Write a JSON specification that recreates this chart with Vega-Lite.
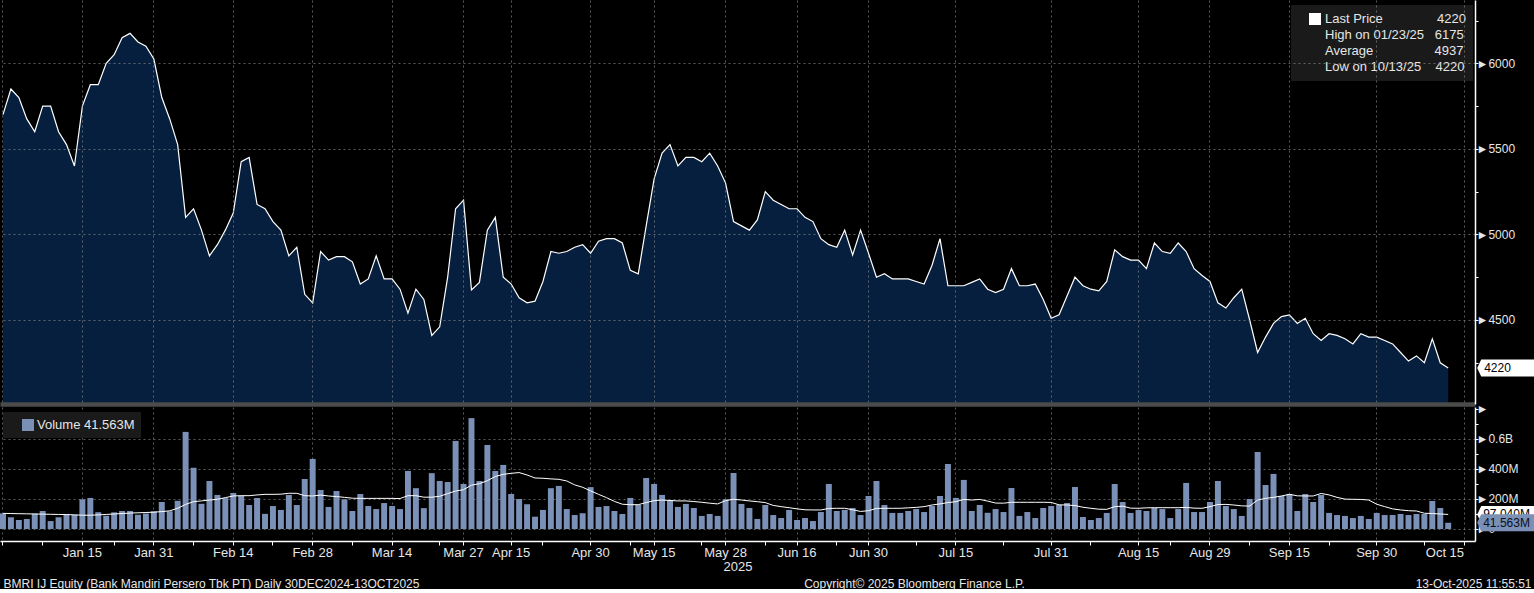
{
  "$schema": "https://vega.github.io/schema/vega-lite/v6.json",
  "background": "#000000",
  "padding": 0,
  "bounds": "flush",
  "spacing": 3,
  "config": {
    "view": {"stroke": null},
    "font": "Liberation Sans",
    "axis": {"labelFont": "Liberation Sans", "titleFont": "Liberation Sans", "titleFontWeight": "normal", "labelOverlap": false},
    "legend": {"labelFont": "Liberation Sans"}
  },
  "resolve": {"scale": {"fill": "independent"}},
  "datasets": {
    "bmri": [
      {"date": "2024-12-30", "price": 5700, "volume": 104e6, "ma": 104e6},
      {"date": "2025-01-02", "price": 5850, "volume": 78e6, "ma": 103e6},
      {"date": "2025-01-03", "price": 5800, "volume": 60e6, "ma": 102e6},
      {"date": "2025-01-06", "price": 5675, "volume": 67e6, "ma": 101e6},
      {"date": "2025-01-07", "price": 5600, "volume": 102e6, "ma": 100e6},
      {"date": "2025-01-08", "price": 5750, "volume": 120e6, "ma": 99e6},
      {"date": "2025-01-09", "price": 5750, "volume": 53e6, "ma": 98e6},
      {"date": "2025-01-10", "price": 5600, "volume": 78e6, "ma": 97e6},
      {"date": "2025-01-13", "price": 5525, "volume": 98e6, "ma": 96e6},
      {"date": "2025-01-14", "price": 5400, "volume": 95e6, "ma": 94e6},
      {"date": "2025-01-15", "price": 5750, "volume": 198e6, "ma": 92e6},
      {"date": "2025-01-16", "price": 5875, "volume": 207e6, "ma": 92e6},
      {"date": "2025-01-17", "price": 5875, "volume": 112e6, "ma": 94e6},
      {"date": "2025-01-20", "price": 6000, "volume": 88e6, "ma": 97e6},
      {"date": "2025-01-21", "price": 6050, "volume": 111e6, "ma": 100e6},
      {"date": "2025-01-22", "price": 6150, "volume": 120e6, "ma": 103e6},
      {"date": "2025-01-23", "price": 6175, "volume": 120e6, "ma": 106e6},
      {"date": "2025-01-24", "price": 6125, "volume": 95e6, "ma": 108e6},
      {"date": "2025-01-30", "price": 6100, "volume": 103e6, "ma": 110e6},
      {"date": "2025-01-31", "price": 6025, "volume": 118e6, "ma": 112e6},
      {"date": "2025-02-03", "price": 5800, "volume": 180e6, "ma": 116e6},
      {"date": "2025-02-04", "price": 5675, "volume": 118e6, "ma": 121e6},
      {"date": "2025-02-05", "price": 5525, "volume": 188e6, "ma": 138e6},
      {"date": "2025-02-06", "price": 5100, "volume": 647e6, "ma": 164e6},
      {"date": "2025-02-07", "price": 5150, "volume": 408e6, "ma": 182e6},
      {"date": "2025-02-10", "price": 5025, "volume": 168e6, "ma": 187e6},
      {"date": "2025-02-11", "price": 4875, "volume": 320e6, "ma": 193e6},
      {"date": "2025-02-12", "price": 4940, "volume": 227e6, "ma": 198e6},
      {"date": "2025-02-13", "price": 5025, "volume": 206e6, "ma": 209e6},
      {"date": "2025-02-14", "price": 5125, "volume": 240e6, "ma": 220e6},
      {"date": "2025-02-17", "price": 5425, "volume": 221e6, "ma": 222e6},
      {"date": "2025-02-18", "price": 5450, "volume": 160e6, "ma": 222e6},
      {"date": "2025-02-19", "price": 5175, "volume": 207e6, "ma": 227e6},
      {"date": "2025-02-20", "price": 5150, "volume": 101e6, "ma": 231e6},
      {"date": "2025-02-21", "price": 5075, "volume": 153e6, "ma": 231e6},
      {"date": "2025-02-24", "price": 5025, "volume": 127e6, "ma": 232e6},
      {"date": "2025-02-25", "price": 4875, "volume": 227e6, "ma": 238e6},
      {"date": "2025-02-26", "price": 4925, "volume": 160e6, "ma": 238e6},
      {"date": "2025-02-27", "price": 4650, "volume": 333e6, "ma": 222e6},
      {"date": "2025-02-28", "price": 4600, "volume": 467e6, "ma": 220e6},
      {"date": "2025-03-03", "price": 4900, "volume": 260e6, "ma": 226e6},
      {"date": "2025-03-04", "price": 4850, "volume": 147e6, "ma": 220e6},
      {"date": "2025-03-05", "price": 4870, "volume": 253e6, "ma": 216e6},
      {"date": "2025-03-06", "price": 4870, "volume": 198e6, "ma": 211e6},
      {"date": "2025-03-07", "price": 4840, "volume": 120e6, "ma": 205e6},
      {"date": "2025-03-10", "price": 4710, "volume": 233e6, "ma": 204e6},
      {"date": "2025-03-11", "price": 4740, "volume": 153e6, "ma": 204e6},
      {"date": "2025-03-12", "price": 4875, "volume": 133e6, "ma": 204e6},
      {"date": "2025-03-13", "price": 4740, "volume": 173e6, "ma": 204e6},
      {"date": "2025-03-14", "price": 4740, "volume": 153e6, "ma": 204e6},
      {"date": "2025-03-17", "price": 4680, "volume": 133e6, "ma": 203e6},
      {"date": "2025-03-18", "price": 4540, "volume": 387e6, "ma": 222e6},
      {"date": "2025-03-19", "price": 4680, "volume": 272e6, "ma": 222e6},
      {"date": "2025-03-20", "price": 4620, "volume": 139e6, "ma": 212e6},
      {"date": "2025-03-21", "price": 4410, "volume": 372e6, "ma": 212e6},
      {"date": "2025-03-24", "price": 4460, "volume": 320e6, "ma": 218e6},
      {"date": "2025-03-25", "price": 4750, "volume": 313e6, "ma": 236e6},
      {"date": "2025-03-26", "price": 5150, "volume": 587e6, "ma": 253e6},
      {"date": "2025-03-27", "price": 5200, "volume": 300e6, "ma": 262e6},
      {"date": "2025-04-08", "price": 4675, "volume": 739e6, "ma": 292e6},
      {"date": "2025-04-09", "price": 4720, "volume": 320e6, "ma": 302e6},
      {"date": "2025-04-10", "price": 5025, "volume": 560e6, "ma": 322e6},
      {"date": "2025-04-11", "price": 5100, "volume": 387e6, "ma": 350e6},
      {"date": "2025-04-14", "price": 4750, "volume": 427e6, "ma": 364e6},
      {"date": "2025-04-15", "price": 4710, "volume": 233e6, "ma": 371e6},
      {"date": "2025-04-16", "price": 4630, "volume": 200e6, "ma": 376e6},
      {"date": "2025-04-17", "price": 4600, "volume": 165e6, "ma": 360e6},
      {"date": "2025-04-21", "price": 4610, "volume": 82e6, "ma": 340e6},
      {"date": "2025-04-22", "price": 4725, "volume": 127e6, "ma": 338e6},
      {"date": "2025-04-23", "price": 4900, "volume": 272e6, "ma": 334e6},
      {"date": "2025-04-24", "price": 4890, "volume": 287e6, "ma": 331e6},
      {"date": "2025-04-25", "price": 4900, "volume": 133e6, "ma": 320e6},
      {"date": "2025-04-28", "price": 4925, "volume": 93e6, "ma": 294e6},
      {"date": "2025-04-29", "price": 4940, "volume": 105e6, "ma": 278e6},
      {"date": "2025-04-30", "price": 4890, "volume": 279e6, "ma": 254e6},
      {"date": "2025-05-02", "price": 4960, "volume": 147e6, "ma": 231e6},
      {"date": "2025-05-05", "price": 4975, "volume": 153e6, "ma": 209e6},
      {"date": "2025-05-06", "price": 4975, "volume": 120e6, "ma": 184e6},
      {"date": "2025-05-07", "price": 4950, "volume": 100e6, "ma": 165e6},
      {"date": "2025-05-08", "price": 4790, "volume": 207e6, "ma": 162e6},
      {"date": "2025-05-09", "price": 4770, "volume": 160e6, "ma": 162e6},
      {"date": "2025-05-14", "price": 5050, "volume": 340e6, "ma": 176e6},
      {"date": "2025-05-15", "price": 5325, "volume": 300e6, "ma": 189e6},
      {"date": "2025-05-16", "price": 5475, "volume": 227e6, "ma": 193e6},
      {"date": "2025-05-19", "price": 5525, "volume": 193e6, "ma": 190e6},
      {"date": "2025-05-20", "price": 5400, "volume": 147e6, "ma": 187e6},
      {"date": "2025-05-21", "price": 5450, "volume": 167e6, "ma": 187e6},
      {"date": "2025-05-22", "price": 5450, "volume": 140e6, "ma": 183e6},
      {"date": "2025-05-23", "price": 5425, "volume": 87e6, "ma": 178e6},
      {"date": "2025-05-26", "price": 5475, "volume": 100e6, "ma": 172e6},
      {"date": "2025-05-27", "price": 5400, "volume": 87e6, "ma": 167e6},
      {"date": "2025-05-28", "price": 5300, "volume": 198e6, "ma": 189e6},
      {"date": "2025-06-02", "price": 5075, "volume": 373e6, "ma": 198e6},
      {"date": "2025-06-03", "price": 5050, "volume": 167e6, "ma": 193e6},
      {"date": "2025-06-04", "price": 5025, "volume": 140e6, "ma": 187e6},
      {"date": "2025-06-05", "price": 5085, "volume": 67e6, "ma": 182e6},
      {"date": "2025-06-10", "price": 5250, "volume": 160e6, "ma": 176e6},
      {"date": "2025-06-11", "price": 5200, "volume": 93e6, "ma": 157e6},
      {"date": "2025-06-12", "price": 5175, "volume": 73e6, "ma": 149e6},
      {"date": "2025-06-13", "price": 5150, "volume": 127e6, "ma": 142e6},
      {"date": "2025-06-16", "price": 5150, "volume": 60e6, "ma": 134e6},
      {"date": "2025-06-17", "price": 5100, "volume": 73e6, "ma": 128e6},
      {"date": "2025-06-18", "price": 5075, "volume": 53e6, "ma": 127e6},
      {"date": "2025-06-19", "price": 4975, "volume": 113e6, "ma": 127e6},
      {"date": "2025-06-20", "price": 4940, "volume": 300e6, "ma": 137e6},
      {"date": "2025-06-23", "price": 4925, "volume": 120e6, "ma": 138e6},
      {"date": "2025-06-24", "price": 5025, "volume": 127e6, "ma": 138e6},
      {"date": "2025-06-25", "price": 4880, "volume": 140e6, "ma": 128e6},
      {"date": "2025-06-26", "price": 5025, "volume": 93e6, "ma": 117e6},
      {"date": "2025-06-30", "price": 4890, "volume": 220e6, "ma": 122e6},
      {"date": "2025-07-01", "price": 4750, "volume": 320e6, "ma": 137e6},
      {"date": "2025-07-02", "price": 4770, "volume": 160e6, "ma": 138e6},
      {"date": "2025-07-03", "price": 4740, "volume": 107e6, "ma": 138e6},
      {"date": "2025-07-04", "price": 4740, "volume": 107e6, "ma": 138e6},
      {"date": "2025-07-07", "price": 4740, "volume": 120e6, "ma": 141e6},
      {"date": "2025-07-08", "price": 4725, "volume": 133e6, "ma": 144e6},
      {"date": "2025-07-09", "price": 4710, "volume": 113e6, "ma": 149e6},
      {"date": "2025-07-10", "price": 4820, "volume": 153e6, "ma": 160e6},
      {"date": "2025-07-11", "price": 4975, "volume": 220e6, "ma": 167e6},
      {"date": "2025-07-14", "price": 4700, "volume": 433e6, "ma": 176e6},
      {"date": "2025-07-15", "price": 4700, "volume": 207e6, "ma": 182e6},
      {"date": "2025-07-16", "price": 4700, "volume": 327e6, "ma": 197e6},
      {"date": "2025-07-17", "price": 4720, "volume": 120e6, "ma": 193e6},
      {"date": "2025-07-18", "price": 4740, "volume": 160e6, "ma": 197e6},
      {"date": "2025-07-21", "price": 4680, "volume": 108e6, "ma": 186e6},
      {"date": "2025-07-22", "price": 4660, "volume": 133e6, "ma": 173e6},
      {"date": "2025-07-23", "price": 4680, "volume": 113e6, "ma": 172e6},
      {"date": "2025-07-24", "price": 4800, "volume": 273e6, "ma": 178e6},
      {"date": "2025-07-25", "price": 4700, "volume": 87e6, "ma": 178e6},
      {"date": "2025-07-28", "price": 4700, "volume": 113e6, "ma": 178e6},
      {"date": "2025-07-29", "price": 4710, "volume": 73e6, "ma": 178e6},
      {"date": "2025-07-30", "price": 4620, "volume": 140e6, "ma": 178e6},
      {"date": "2025-07-31", "price": 4510, "volume": 153e6, "ma": 177e6},
      {"date": "2025-08-01", "price": 4530, "volume": 160e6, "ma": 161e6},
      {"date": "2025-08-04", "price": 4640, "volume": 173e6, "ma": 160e6},
      {"date": "2025-08-05", "price": 4750, "volume": 280e6, "ma": 156e6},
      {"date": "2025-08-06", "price": 4700, "volume": 80e6, "ma": 145e6},
      {"date": "2025-08-07", "price": 4680, "volume": 60e6, "ma": 138e6},
      {"date": "2025-08-08", "price": 4670, "volume": 73e6, "ma": 132e6},
      {"date": "2025-08-11", "price": 4725, "volume": 107e6, "ma": 131e6},
      {"date": "2025-08-12", "price": 4910, "volume": 300e6, "ma": 149e6},
      {"date": "2025-08-13", "price": 4870, "volume": 180e6, "ma": 152e6},
      {"date": "2025-08-14", "price": 4850, "volume": 107e6, "ma": 139e6},
      {"date": "2025-08-15", "price": 4850, "volume": 127e6, "ma": 138e6},
      {"date": "2025-08-19", "price": 4800, "volume": 120e6, "ma": 141e6},
      {"date": "2025-08-20", "price": 4950, "volume": 140e6, "ma": 142e6},
      {"date": "2025-08-21", "price": 4900, "volume": 133e6, "ma": 142e6},
      {"date": "2025-08-22", "price": 4890, "volume": 73e6, "ma": 142e6},
      {"date": "2025-08-25", "price": 4950, "volume": 133e6, "ma": 142e6},
      {"date": "2025-08-26", "price": 4900, "volume": 307e6, "ma": 144e6},
      {"date": "2025-08-27", "price": 4800, "volume": 113e6, "ma": 139e6},
      {"date": "2025-08-28", "price": 4760, "volume": 113e6, "ma": 138e6},
      {"date": "2025-08-29", "price": 4725, "volume": 180e6, "ma": 149e6},
      {"date": "2025-09-01", "price": 4600, "volume": 320e6, "ma": 163e6},
      {"date": "2025-09-02", "price": 4570, "volume": 153e6, "ma": 164e6},
      {"date": "2025-09-03", "price": 4630, "volume": 133e6, "ma": 160e6},
      {"date": "2025-09-04", "price": 4680, "volume": 87e6, "ma": 154e6},
      {"date": "2025-09-08", "price": 4500, "volume": 200e6, "ma": 153e6},
      {"date": "2025-09-09", "price": 4310, "volume": 513e6, "ma": 193e6},
      {"date": "2025-09-10", "price": 4400, "volume": 293e6, "ma": 204e6},
      {"date": "2025-09-11", "price": 4480, "volume": 367e6, "ma": 211e6},
      {"date": "2025-09-12", "price": 4520, "volume": 220e6, "ma": 220e6},
      {"date": "2025-09-15", "price": 4530, "volume": 233e6, "ma": 231e6},
      {"date": "2025-09-16", "price": 4480, "volume": 120e6, "ma": 221e6},
      {"date": "2025-09-17", "price": 4510, "volume": 233e6, "ma": 220e6},
      {"date": "2025-09-18", "price": 4420, "volume": 180e6, "ma": 220e6},
      {"date": "2025-09-19", "price": 4380, "volume": 227e6, "ma": 237e6},
      {"date": "2025-09-22", "price": 4420, "volume": 107e6, "ma": 227e6},
      {"date": "2025-09-23", "price": 4410, "volume": 93e6, "ma": 211e6},
      {"date": "2025-09-24", "price": 4390, "volume": 87e6, "ma": 199e6},
      {"date": "2025-09-25", "price": 4360, "volume": 73e6, "ma": 198e6},
      {"date": "2025-09-26", "price": 4420, "volume": 87e6, "ma": 197e6},
      {"date": "2025-09-29", "price": 4400, "volume": 67e6, "ma": 193e6},
      {"date": "2025-09-30", "price": 4400, "volume": 107e6, "ma": 165e6},
      {"date": "2025-10-01", "price": 4380, "volume": 93e6, "ma": 149e6},
      {"date": "2025-10-02", "price": 4360, "volume": 93e6, "ma": 134e6},
      {"date": "2025-10-03", "price": 4310, "volume": 100e6, "ma": 127e6},
      {"date": "2025-10-06", "price": 4260, "volume": 93e6, "ma": 122e6},
      {"date": "2025-10-07", "price": 4290, "volume": 100e6, "ma": 120e6},
      {"date": "2025-10-08", "price": 4250, "volume": 100e6, "ma": 105e6},
      {"date": "2025-10-09", "price": 4390, "volume": 187e6, "ma": 103e6},
      {"date": "2025-10-10", "price": 4250, "volume": 140e6, "ma": 100e6},
      {"date": "2025-10-13", "price": 4220, "volume": 41563000, "ma": 97040000}
    ]
  },
  "vconcat": [
    {
      "width": 1475,
      "height": 404,
      "data": {"name": "bmri"},
      "encoding": {
        "x": {
          "field": "date",
          "type": "ordinal",
          "scale": {"type": "band", "paddingInner": 0.25, "paddingOuter": 0, "domain": {"unionWith": ["2025-10-14", "2025-10-15", "2025-10-16"]}},
          "axis": {
            "values": ["2024-12-30", "2025-01-15", "2025-01-31", "2025-02-14", "2025-02-28", "2025-03-14", "2025-03-27", "2025-04-15", "2025-04-30", "2025-05-15", "2025-05-28", "2025-06-16", "2025-06-30", "2025-07-15", "2025-07-31", "2025-08-15", "2025-08-29", "2025-09-15", "2025-09-30", "2025-10-15"],
            "labels": false,
            "ticks": false,
            "domainColor": "#4b4b4b",
            "domainWidth": 4.5,
            "grid": true,
            "gridColor": "#8c8c8c",
            "gridDash": [2, 3],
            "gridOpacity": 0.65,
            "zindex": 1,
            "title": "BMRI IJ Equity (Bank Mandiri Persero Tbk PT) Daily 30DEC2024-13OCT2025",
            "titleX": 3,
            "titleY": 179,
            "titleAlign": "left",
            "titleBaseline": "middle",
            "titleAngle": 0,
            "titleFontSize": 12,
            "titleColor": "#e6e6e6"
          }
        }
      },
      "layer": [
        {
          "mark": {"type": "area", "color": "#071f3e", "clip": true},
          "encoding": {
            "y": {
              "field": "price",
              "type": "quantitative",
              "scale": {"domain": [4009, 6370], "nice": false, "zero": false},
              "axis": {
                "orient": "right",
                "values": [4250, 4500, 4750, 5000, 5250, 5500, 5750, 6000, 6250],
                "tickCount": 30,
                "labelExpr": "round(datum.value) % 500 == 0 ? '►' + round(datum.value) : ''",
                "labelOverlap": false,
                "labelFontSize": 12,
                "labelColor": "#e6e6e6",
                "labelPadding": -2,
                "labelBaseline": "middle",
                "tickSize": 3,
                "tickColor": "#ffffff",
                "domainColor": "#ffffff",
                "domainWidth": 1.5,
                "grid": true,
                "gridColor": "#8c8c8c",
                "gridDash": [2, 3],
                "gridOpacity": {"condition": {"test": "round(datum.value) % 500 != 0", "value": 0}, "value": 0.65},
                "zindex": 1,
                "title": "Copyright© 2025 Bloomberg Finance L.P.",
                "titleAngle": 0,
                "titleX": -561,
                "titleY": 583,
                "titleAlign": "center",
                "titleBaseline": "middle",
                "titleFontSize": 12,
                "titleColor": "#e6e6e6"
              }
            }
          }
        },
        {
          "mark": {"type": "line", "color": "#ffffff", "strokeWidth": 1.2, "clip": true},
          "encoding": {"y": {"field": "price", "type": "quantitative"}}
        },
        {
          "transform": [{"filter": "datum.date == '2025-10-13'"}],
          "mark": {"type": "text", "text": ""},
          "encoding": {
            "y": {"field": "price", "type": "quantitative"},
            "fill": {
              "datum": "Last Price",
              "type": "nominal",
              "scale": {"domain": ["Last Price", "High on 01/23/25", "Average", "Low on 10/13/25"], "range": ["#ffffff", "transparent", "transparent", "transparent"]},
              "legend": {
                "orient": "none",
                "legendX": 1291,
                "legendY": 5,
                "title": null,
                "fillColor": "#1a1a1a",
                "padding": 7,
                "rowPadding": 2,
                "symbolSize": 144,
                "symbolType": "square",
                "symbolOffset": 10,
                "labelOffset": 3,
                "labelLimit": 400,
                "labelFontSize": 13,
                "labelColor": "#e6e6e6",
                "labelExpr": "datum.label == 'Last Price' ? 'Last Price\u00a0\u00a0\u00a0\u00a0\u00a0\u00a0\u00a0\u00a0\u00a0\u00a0\u00a0\u00a0\u00a0\u00a0\u00a04220' : datum.label == 'Average' ? 'Average\u00a0\u00a0\u00a0\u00a0\u00a0\u00a0\u00a0\u00a0\u00a0\u00a0\u00a0\u00a0\u00a0\u00a0\u00a0\u00a0\u00a04937' : datum.label == 'High on 01/23/25' ? 'High on 01/23/25\u00a0\u00a0\u00a06175' : 'Low on 10/13/25\u00a0\u00a0\u00a0\u00a04220'"
              }
            }
          }
        },
        {
          "transform": [{"filter": "datum.date == '2025-10-13'"}],
          "mark": {"type": "point", "shape": "M29,0L33,-8.5L86,-8.5L86,8.5L33,8.5Z", "size": 4, "filled": true, "color": "#ffffff", "opacity": 1, "strokeWidth": 0, "clip": false},
          "encoding": {"y": {"field": "price", "type": "quantitative"}}
        },
        {
          "transform": [{"filter": "datum.date == '2025-10-13'"}],
          "mark": {"type": "text", "align": "left", "baseline": "middle", "dx": 36, "fontSize": 12, "color": "#000000"},
          "encoding": {
            "y": {"field": "price", "type": "quantitative"},
            "text": {"field": "price", "type": "quantitative", "format": "d"}
          }
        }
      ]
    },
    {
      "width": 1475,
      "height": 134,
      "data": {"name": "bmri"},
      "encoding": {
        "x": {
          "field": "date",
          "type": "ordinal",
          "scale": {"type": "band", "paddingInner": 0.25, "paddingOuter": 0, "domain": {"unionWith": ["2025-10-14", "2025-10-15", "2025-10-16"]}},
          "axis": {
            "values": ["2024-12-30", "2025-01-08", "2025-01-15", "2025-01-21", "2025-01-31", "2025-02-07", "2025-02-14", "2025-02-21", "2025-02-28", "2025-03-07", "2025-03-14", "2025-03-24", "2025-03-27", "2025-04-15", "2025-04-22", "2025-04-30", "2025-05-08", "2025-05-15", "2025-05-23", "2025-05-28", "2025-06-10", "2025-06-16", "2025-06-23", "2025-06-30", "2025-07-08", "2025-07-15", "2025-07-23", "2025-07-31", "2025-08-07", "2025-08-15", "2025-08-22", "2025-08-29", "2025-09-08", "2025-09-15", "2025-09-22", "2025-09-30", "2025-10-08", "2025-10-15"],
            "labelExpr": "(datum.value == '2024-12-30' || indexof(['2025-01-08','2025-01-21','2025-02-07','2025-02-21','2025-03-07','2025-03-24','2025-04-22','2025-05-08','2025-05-23','2025-06-10','2025-06-23','2025-07-08','2025-07-23','2025-08-07','2025-08-22','2025-09-08','2025-09-22','2025-10-08'], datum.value) >= 0) ? '' : timeFormat(toDate(datum.value + 'T00:00:00'), '%b %d')",
            "labelOverlap": false,
            "labelAngle": 0,
            "labelFontSize": 13,
            "labelColor": "#e6e6e6",
            "labelPadding": 1,
            "labelAlign": {"condition": {"test": "datum.value == '2025-10-15'", "value": "right"}, "value": "center"},
            "tickSize": 4,
            "tickColor": "#ffffff",
            "domainColor": "#ffffff",
            "domainWidth": 1.5,
            "grid": true,
            "gridColor": "#8c8c8c",
            "gridDash": [2, 3],
            "gridOpacity": {"condition": {"test": "indexof(['2025-01-08','2025-01-21','2025-02-07','2025-02-21','2025-03-07','2025-03-24','2025-04-22','2025-05-08','2025-05-23','2025-06-10','2025-06-23','2025-07-08','2025-07-23','2025-08-07','2025-08-22','2025-09-08','2025-09-22','2025-10-08'], datum.value) >= 0", "value": 0}, "value": 0.65},
            "title": "2025",
            "titleFontSize": 13,
            "titleColor": "#e6e6e6",
            "titlePadding": 1
          }
        }
      },
      "layer": [
        {
          "mark": {"type": "bar"},
          "encoding": {
            "y": {
              "field": "volume",
              "type": "quantitative",
              "scale": {"domain": [-80000000, 813000000], "nice": false, "zero": false},
              "axis": {
                "orient": "right",
                "values": [0, 100000000, 200000000, 300000000, 400000000, 500000000, 600000000, 700000000, 800000000],
                "tickCount": 30,
                "labelExpr": "round(datum.value / 100000000) == 6 ? '►0.6B' : round(datum.value / 100000000) == 4 ? '►400M' : round(datum.value / 100000000) == 2 ? '►200M' : round(datum.value / 100000000) == 0 ? '►0' : round(datum.value / 100000000) == 8 ? '►' : ''",
                "labelOverlap": false,
                "labelFontSize": 12,
                "labelColor": "#e6e6e6",
                "labelPadding": -2,
                "labelBaseline": "middle",
                "tickSize": 3,
                "tickColor": "#ffffff",
                "domainColor": "#ffffff",
                "domainWidth": 1.5,
                "grid": true,
                "gridColor": "#8c8c8c",
                "gridDash": [2, 3],
                "gridOpacity": {"condition": {"test": "round(datum.value / 100000000) % 2 == 0 && round(datum.value / 100000000) < 7", "value": 0.65}, "value": 0},
                "title": "13-Oct-2025 11:55:51",
                "titleAngle": 0,
                "titleX": 56,
                "titleY": 176,
                "titleAlign": "right",
                "titleBaseline": "middle",
                "titleFontSize": 12,
                "titleColor": "#e6e6e6"
              }
            },
            "y2": {"datum": 0},
            "fill": {
              "datum": "Volume",
              "type": "nominal",
              "scale": {"domain": ["Volume"], "range": ["#7b90b6"]},
              "legend": {
                "orient": "none",
                "legendX": 3,
                "legendY": 5,
                "title": null,
                "fillColor": "#1a1a1a",
                "padding": 6,
                "symbolType": "square",
                "symbolSize": 144,
                "symbolOffset": 12,
                "labelOffset": 2,
                "labelFontSize": 13,
                "labelColor": "#e6e6e6",
                "labelExpr": "'Volume 41.563M'"
              }
            }
          }
        },
        {
          "mark": {"type": "line", "color": "#ffffff", "strokeWidth": 1},
          "encoding": {"y": {"field": "ma", "type": "quantitative"}}
        },
        {
          "transform": [{"filter": "datum.date == '2025-10-13'"}],
          "mark": {"type": "point", "shape": "M29,0L33,-8.5L86,-8.5L86,8.5L33,8.5Z", "size": 4, "filled": true, "color": "#ffffff", "opacity": 1, "strokeWidth": 0, "clip": false},
          "encoding": {"y": {"field": "ma", "type": "quantitative"}}
        },
        {
          "transform": [{"filter": "datum.date == '2025-10-13'"}],
          "mark": {"type": "text", "align": "left", "baseline": "middle", "dx": 35, "fontSize": 12, "color": "#000000"},
          "encoding": {
            "y": {"field": "ma", "type": "quantitative"},
            "text": {"field": "ma", "type": "quantitative", "format": ".5s"}
          }
        },
        {
          "transform": [{"filter": "datum.date == '2025-10-13'"}],
          "mark": {"type": "point", "shape": "M29,0L33,-8.5L86,-8.5L86,8.5L33,8.5Z", "size": 4, "filled": true, "color": "#7b90b6", "opacity": 1, "strokeWidth": 0, "clip": false},
          "encoding": {"y": {"field": "volume", "type": "quantitative"}}
        },
        {
          "transform": [{"filter": "datum.date == '2025-10-13'"}],
          "mark": {"type": "text", "align": "left", "baseline": "middle", "dx": 35, "fontSize": 12, "color": "#0a0f1a"},
          "encoding": {
            "y": {"field": "volume", "type": "quantitative"},
            "text": {"field": "volume", "type": "quantitative", "format": ".5s"}
          }
        }
      ]
    }
  ]
}
